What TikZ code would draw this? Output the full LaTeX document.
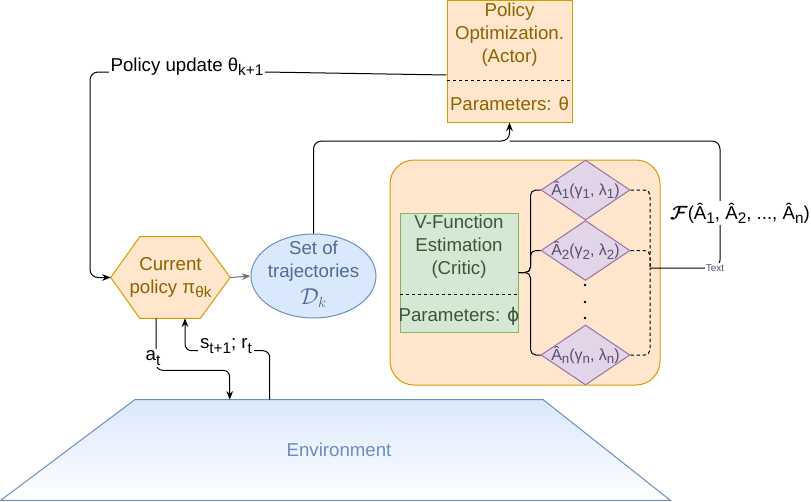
\documentclass[tikz,border=0pt]{standalone}
\usepackage{fontspec}
\usepackage{bm}
\setmainfont{Liberation Sans}
\newfontfamily\dejavu{DejaVu Sans}
\usepackage{tikz}
\usetikzlibrary{shapes,arrows.meta,backgrounds,positioning,calc}
\definecolor{orfill}{HTML}{FFE6CC}
\definecolor{ordraw}{HTML}{D79B00}
\definecolor{ortext}{RGB}{140,100,0}
\definecolor{blfill}{HTML}{DAE8FC}
\definecolor{bldraw}{HTML}{6C8EBF}
\definecolor{bltext}{RGB}{80,105,150}
\definecolor{grfill}{HTML}{D5E8D4}
\definecolor{grdraw}{HTML}{82B366}
\definecolor{grtext}{RGB}{60,85,55}
\definecolor{pufill}{HTML}{E1D5E7}
\definecolor{pudraw}{HTML}{9673A6}
\definecolor{putext}{RGB}{95,75,115}
\newcommand{\fbig}{\fontsize{14}{17.25}\selectfont}
\newcommand{\subtx}[2][11.5]{\raisebox{-0.22em}{\fontsize{#1}{#1}\selectfont #2}}
\tikzstyle{ln}=[line width=0.75pt, black]
\tikzstyle{dsh}=[ln, dash pattern=on 2.5pt off 2pt]
\tikzstyle{arr}=[ln, -{Stealth[length=6.5pt,width=5pt]}]
\tikzstyle{orbox}=[rectangle, fill=orfill, draw=ordraw, line width=0.75pt]
\tikzstyle{ortxt}=[text=ortext, font=\fbig, align=center, inner sep=0pt]
\tikzstyle{grbox}=[rectangle, fill=grfill, draw=grdraw, line width=0.75pt]
\tikzstyle{grtxt}=[text=grtext, font=\fbig, align=center, inner sep=0pt]
\tikzstyle{dia}=[diamond, fill=pufill, draw=pudraw, line width=0.75pt, minimum width=66.75pt, minimum height=45pt, inner sep=0pt]
\tikzstyle{ditxt}=[text=putext, font=\fontsize{12}{14}\selectfont, inner sep=0pt]
\tikzstyle{ell}=[ellipse, fill=blfill, draw=bldraw, line width=0.75pt, minimum width=93.75pt, minimum height=63pt, inner sep=0pt]
\tikzstyle{eltxt}=[text=bltext, font=\fbig, align=center, inner sep=0pt]
\tikzstyle{envtxt}=[rectangle, inner sep=0pt, text=bldraw, font=\fbig]
\tikzstyle{lbl}=[fill=white, inner sep=1.5pt, font=\fbig]
\tikzstyle{txtlbl}=[fill=white, inner sep=1pt, text=putext, font=\fontsize{7.5}{9}\selectfont]

\begin{document}
\begin{tikzpicture}[x=0.75pt,y=-0.75pt]
\useasboundingbox (0,0) rectangle (811,501);

%Actor
\node[orbox, minimum width=93.75pt, minimum height=91.125pt] (opt) at (509.5,61.25) {};
\draw[dsh] (447,80.5) -- (572,80.5);
\node[ortxt] (optT) at (509.5,35) {Policy\\Optimization.\\(Actor)};
\node[ortxt] (optP) at (509.5,104) {Parameters: θ};

%Critic group
\node[orbox, rounded corners=18pt, minimum width=202.5pt, minimum height=168.75pt] (grp) at (525,272.5) {};
\node[grbox, minimum width=88.5pt, minimum height=89.25pt] (grn) at (459,272.5) {};
\draw[dsh] (400,294) -- (518,294);
\node[grtxt] (grnT) at (459,247) {V-Function\\Estimation\\(Critic)};
\node[grtxt] (grnP) at (459,316) {Parameters: {\dejavu ϕ}};

%Advantages
\node[dia] (d1) at (585.5,190) {};
\node[dia] (d2) at (585.5,250.5) {};
\node[dia] (dn) at (585.5,355) {};
\node[ditxt] (d1T) at (d1) {Â\subtx[10]{1}(γ\subtx[10]{1}, λ\subtx[10]{1})};
\node[ditxt] (d2T) at (d2) {Â\subtx[10]{2}(γ\subtx[10]{2}, λ\subtx[10]{2})};
\node[ditxt] (dnT) at (dn) {Â\subtx[10]{n}(γ\subtx[10]{n}, λ\subtx[10]{n})};
\foreach \y in {285,302,318} \fill (585,\y) circle[radius=1pt];

%Policy and trajectories
\node[ortxt, minimum width=89.25pt, minimum height=60.75pt] (pol) at (170.5,277.5) {Current\\policy π\subtx{θk}};
\node[ell] (ell) at (313.5,276) {};
\node[eltxt] (ellT) at (313.5,261) {Set of\\trajectories};
\node[eltxt] (ellD) at (313.5,298) {\fontsize{16}{16}\selectfont$\mathcal{D}_k$};

%Environment
\node[envtxt, minimum width=306pt, minimum height=75pt] (env) at (339,450) {Environment};

%background
\begin{scope}[on background layer]
\fill[orfill, draw=ordraw, line width=0.75pt] (pol.west) -- ([xshift=21.75pt]pol.north west) -- ([xshift=-22.5pt]pol.north east) -- (pol.east) -- ([xshift=-22.5pt]pol.south east) -- ([xshift=21.75pt]pol.south west) -- cycle;
\end{scope}

\begin{scope}[on background layer]
\shade[top color=blfill, bottom color=white, draw=bldraw, line width=0.75pt] (env.north west) -- (env.north east) -- ([xshift=95.25pt]env.south east) -- ([xshift=-100.5pt]env.south west) -- cycle;
\end{scope}

%Arrows
\coordinate (tc) at (720,141);
\coordinate (jn) at (650,268);
\draw[arr, draw=black!55] (pol.east) -- (ell.west);
\draw[arr, rounded corners=5pt] ($(pol.south)+(-14.5,0)$) -- ++(0,52) -| ($(env.north west)+(95,0)$);
\draw[arr, rounded corners=5pt] ($(env.north west)+(135,0)$) -- ++(0,-49) -| ($(pol.south)+(14.5,0)$);
\draw[arr, rounded corners=6pt] (ell.north) |- (opt.south |- tc) -- (opt.south);
\draw[arr, rounded corners=6pt] ([yshift=-10.3pt]opt.west) -- (265,72) -- (90,72) |- (pol.west);
\foreach \d in {d1,d2,dn} \draw[ln, rounded corners=4pt] (grn.east) -- ++(12,0) |- (\d.west);
\foreach \d in {d1,d2,dn} \draw[dsh, rounded corners=4pt] (\d.east) -| (jn);
\draw[ln, rounded corners=6pt] (jn) -| (tc) -- (tc -| opt.south);

%Labels
\node[lbl] (upd) at (187,67) {Policy update θ\subtx{k+1}};
\node[lbl] (lblA) at (153,358) {a\subtx{t}};
\node[lbl] (lblS) at (226,346) {s\subtx{t+1}; r\subtx{t}};
\node[txtlbl] (tlbl) at (715,268) {Text};
\node[lbl] (flab) at (740,213) {$\bm{\mathcal{F}}$(Â\subtx{1}, Â\subtx{2}, ..., Â\subtx{n})};

\end{tikzpicture}
\end{document}
